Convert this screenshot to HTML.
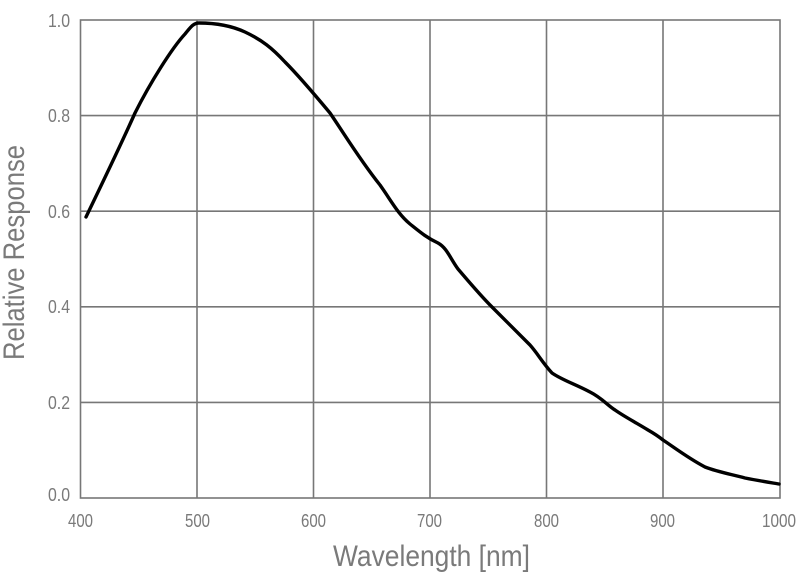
<!DOCTYPE html>
<html><head><meta charset="utf-8"><style>
html,body{margin:0;padding:0;background:#fff;width:800px;height:584px;overflow:hidden}
text{font-family:"Liberation Sans",sans-serif;fill:#7a7a7a}
</style></head><body>
<svg width="800" height="584" viewBox="0 0 800 584" xmlns="http://www.w3.org/2000/svg">
<g stroke="#777" stroke-width="1.6" fill="none">
<rect x="80.5" y="20" width="699.5" height="478"/>
<line x1="197" y1="20" x2="197" y2="498"/>
<line x1="313.5" y1="20" x2="313.5" y2="498"/>
<line x1="430" y1="20" x2="430" y2="498"/>
<line x1="546.5" y1="20" x2="546.5" y2="498"/>
<line x1="663" y1="20" x2="663" y2="498"/>
<line x1="80.5" y1="115.6" x2="780" y2="115.6"/>
<line x1="80.5" y1="211.2" x2="780" y2="211.2"/>
<line x1="80.5" y1="306.8" x2="780" y2="306.8"/>
<line x1="80.5" y1="402.4" x2="780" y2="402.4"/>
</g>
<path d="M86,217 C100,188 123,140 135,113 C150,83 172,48 185,34 C190,28 193,23 199,23 C215,23 232,26 245,32 C262,40 272,48 285,62 C300,77 315,95 330,113 C345,135 360,160 380,185 C392,202 398,214 410,224 C420,232 427,238 438,243 C447,248 450,258 458,269 C470,283 480,295 492,307 C510,325 520,335 530,345 C538,354 542,362 552,373 C562,380 575,384 590,392 C602,398 607,405 615,410 C625,417 635,422 648,430 C655,434 658,436 663,440 C675,448 688,458 705,467 C718,472 730,474 745,478 C760,481 770,482.5 779,484" fill="none" stroke="#000" stroke-width="3.4" stroke-linejoin="round" stroke-linecap="round"/>
<g font-size="18">
<text x="48" y="27" textLength="22" lengthAdjust="spacingAndGlyphs">1.0</text>
<text x="48" y="122" textLength="22" lengthAdjust="spacingAndGlyphs">0.8</text>
<text x="48" y="218" textLength="22" lengthAdjust="spacingAndGlyphs">0.6</text>
<text x="48" y="313" textLength="22" lengthAdjust="spacingAndGlyphs">0.4</text>
<text x="48" y="409" textLength="22" lengthAdjust="spacingAndGlyphs">0.2</text>
<text x="48" y="501" textLength="22" lengthAdjust="spacingAndGlyphs">0.0</text>
</g>
<g font-size="18">
<text x="68" y="527" textLength="25" lengthAdjust="spacingAndGlyphs">400</text>
<text x="185" y="527" textLength="25" lengthAdjust="spacingAndGlyphs">500</text>
<text x="301" y="527" textLength="25" lengthAdjust="spacingAndGlyphs">600</text>
<text x="417" y="527" textLength="25" lengthAdjust="spacingAndGlyphs">700</text>
<text x="534" y="527" textLength="25" lengthAdjust="spacingAndGlyphs">800</text>
<text x="650" y="527" textLength="25" lengthAdjust="spacingAndGlyphs">900</text>
<text x="762" y="527" textLength="34" lengthAdjust="spacingAndGlyphs">1000</text>
</g>
<text x="333" y="566" font-size="30" textLength="197" lengthAdjust="spacingAndGlyphs">Wavelength [nm]</text>
<text transform="translate(24,360) rotate(-90)" font-size="30" textLength="215" lengthAdjust="spacingAndGlyphs">Relative Response</text>
</svg>
</body></html>
